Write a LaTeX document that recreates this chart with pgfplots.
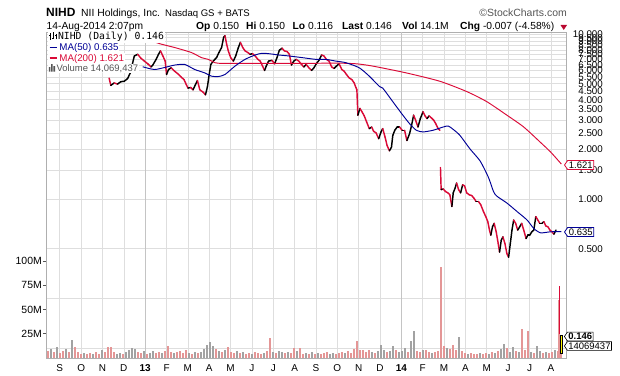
\documentclass[border=0pt]{standalone}
\usepackage{fontspec}
\setmainfont{Liberation Sans}
\newfontfamily\djvm{DejaVu Sans Mono}
\usepackage{pgfplots}
\pgfplotsset{compat=1.18}
\usetikzlibrary{shapes.symbols}
\definecolor{pricered}{RGB}{218,10,55}
\definecolor{mab}{RGB}{0,0,150}
\definecolor{volpink}{RGB}{228,150,150}
\definecolor{volgray}{RGB}{162,162,162}
\definecolor{gridgray}{RGB}{222,222,222}
\definecolor{yeargray}{RGB}{196,196,196}
\definecolor{framegray}{RGB}{175,175,175}
\definecolor{txtgray}{RGB}{85,85,85}
\newcommand{\kv}[2]{{\bfseries #1} #2}
\begin{document}
\begin{tikzpicture}
\useasboundingbox (0,0) rectangle (620bp,376bp);
% ---------- grid / frame / price ticks ----------
\begin{axis}[
  at={(46bp,18bp)}, anchor=south west, width=520bp, height=326bp, scale only axis,
  xmin=-0.646, xmax=23.71, ymode=log, ymin=0.1088, ymax=10.28,
  axis line style={draw=framegray, line width=0.7bp},
  xtick={0,...,23},
  xticklabels={S,O,N,D,\textbf{13},F,M,A,M,J,J,A,S,O,N,D,\textbf{14},F,M,A,M,J,J,A},
  xtick style={draw=none},
  xticklabel style={font=\fontsize{10}{10}\selectfont, yshift=-3.5bp},
  ytick={0.125,0.25,0.5,1,1.5,2,2.5,3,3.5,4,4.5,5,5.5,6,6.5,7,7.5,8,8.5,9,9.5,10},
  yticklabels={,,0.500,1.000,1.500,2.000,2.500,3.000,3.500,4.000,4.500,5.000,5.500,6.000,6.500,7.000,7.500,8.000,8.500,9.000,9.500,10.000},
  yminorticks=false,
  yticklabel pos=right,
  ytick style={draw=none},
  yticklabel style={font=\fontsize{9.8}{10}\selectfont, anchor=east, inner sep=1bp, xshift=38bp},
  grid=major, major grid style={draw=gridgray, line width=0.6bp},
  extra x ticks={4,16}, extra x tick labels={},
  extra x tick style={grid=major, major grid style={draw=yeargray, line width=0.8bp}},
]
\end{axis}
% ---------- volume ----------
\begin{axis}[
  at={(46bp,18bp)}, anchor=south west, width=520bp, height=326bp, scale only axis,
  xmin=-0.646, xmax=23.71, ymin=0, ymax=335.4,
  axis line style={draw=none},
  xtick=\empty,
  ytick={25,50,75,100}, yticklabels={25M,50M,75M,100M},
  ytick pos=left, tick align=outside, major tick length=3bp,
  ytick style={draw=txtgray, line width=0.6bp},
  yticklabel style={font=\fontsize{10.5}{10.5}\selectfont, inner sep=1bp},
]
\addplot[ycomb, draw=volpink, line width=2bp] table {
m v
-0.553 7
-0.272 6
0.009 5
0.150 7
0.431 6
0.712 11
0.852 6
0.993 4
1.274 4
1.415 5
1.696 6
1.836 4
2.117 6
2.258 11
2.398 11
2.539 6
2.960 4
3.663 6
3.803 5
4.084 4
4.506 5
4.646 6
4.927 7
5.068 12
5.208 6
5.489 6
5.630 7
5.770 5
5.911 8.5
6.192 4
6.473 5
7.316 9
7.597 6
7.878 11
8.019 6
8.159 5
8.440 5
8.721 4
8.862 5
9.143 6
9.283 5
9.424 4
9.705 7
9.845 21
10.126 5
10.548 5
10.829 5
10.970 10
11.251 10
11.391 4
11.672 4
11.953 4
12.234 4
12.375 5
12.515 6
12.937 4
13.077 5
13.218 6
13.499 7
13.639 5
13.780 9
13.920 17
14.061 8
14.201 8
14.342 6
14.482 8
14.763 5
15.326 6
15.747 8
16.309 6
16.731 7
16.871 6
17.152 8
17.293 6
17.574 6
17.714 7
17.840 94
17.995 12
18.276 9
18.417 13.6
18.557 8
18.838 7
18.979 5
19.260 5
19.400 4
19.541 4
19.822 4
19.963 5
20.244 6
20.525 7
20.946 10
21.368 7
21.649 29.5
21.789 8
21.930 28
22.211 5
22.632 5
22.913 5
23.054 6
23.335 7
23.40 60
23.49 14.07
};
\addplot[ycomb, draw=volgray, line width=2bp] table {
m v
-0.412 9
-0.131 11.6
0.290 9
0.571 18.5
1.133 5
1.555 4
1.977 8
2.679 4
2.820 5
3.101 6
3.241 8
3.382 10
3.522 9
3.944 7
4.225 5
4.365 7
4.787 5
5.349 5
6.052 5
6.333 6
6.614 6
6.754 9
6.895 13
7.035 16.5
7.176 12
7.457 7
7.738 8
8.300 7
8.581 6
9.002 4
9.564 5
9.986 6
10.267 7
10.407 6
10.689 6
11.110 7
11.532 5
11.813 6
12.094 5
12.656 4
12.796 5
13.358 5
14.623 6
14.904 7
15.044 13.6
15.185 8
15.466 7
15.607 12.4
15.888 6
16.028 7
16.169 10
16.450 17
16.590 28
17.012 8
17.433 5
18.136 10
18.698 22
19.119 4
19.681 5
20.103 4
20.384 5
20.665 9
20.806 14
21.087 6
21.227 11
21.508 6
22.070 6
22.351 12
22.492 7
22.773 6
23.194 8
};
\end{axis}
% ---------- price data ----------
\begin{axis}[
  at={(46bp,18bp)}, anchor=south west, width=520bp, height=326bp, scale only axis,
  xmin=-0.646, xmax=23.71, ymode=log, ymin=0.1088, ymax=10.28,
  hide axis, clip=true,
  colormap={pr}{color=(black) color=(pricered)},
  point meta min=0, point meta max=1,
]
\addplot[mesh, shader=flat corner, point meta=explicit, line width=1.45bp, line cap=round, line join=round]
 table[x=m, y=p, meta=c] {
m p c
2.311 5.40 1
2.390 4.88 0
2.547 5.05 1
2.704 4.97 0
2.862 5.14 0
3.019 5.17 0
3.176 5.37 0
3.302 5.81 0
3.491 7.36 0
3.648 7.53 1
3.805 7.12 1
3.962 6.85 1
4.119 6.60 1
4.277 6.31 0
4.355 6.48 0
4.513 7.02 0
4.623 7.53 0
4.717 7.90 1
4.827 7.36 1
4.937 6.85 1
5.000 5.68 0
5.094 6.09 0
5.220 6.24 1
5.377 5.95 1
5.535 5.73 1
5.692 5.47 1
5.818 5.29 1
5.928 4.93 1
6.006 4.70 0
6.132 4.74 1
6.242 4.59 0
6.352 4.93 0
6.447 5.22 1
6.557 4.59 1
6.714 4.44 1
6.824 4.28 0
6.918 4.81 0
6.997 5.68 0
7.075 6.54 0
7.186 6.85 0
7.343 7.19 0
7.453 7.72 0
7.579 8.28 0
7.673 9.54 0
7.736 9.77 1
7.814 8.68 1
7.893 7.90 1
8.003 7.19 1
8.129 6.85 0
8.239 7.36 0
8.365 8.28 0
8.459 8.89 1
8.569 8.28 1
8.679 7.90 1
8.805 7.72 1
8.915 7.53 0
9.025 7.60 1
9.151 7.36 1
9.277 7.02 1
9.387 6.85 1
9.497 6.39 1
9.591 6.01 0
9.670 6.39 0
9.780 6.85 0
9.937 6.92 1
10.063 6.60 0
10.173 7.19 0
10.283 7.97 0
10.409 8.20 1
10.519 7.90 1
10.645 7.83 1
10.755 7.53 1
10.849 6.48 0
10.959 6.85 0
11.069 7.02 1
11.195 6.85 1
11.321 6.54 1
11.431 6.31 0
11.541 6.54 1
11.667 6.24 1
11.792 6.01 0
11.903 6.24 0
12.013 6.60 0
12.138 6.92 0
12.264 7.46 1
12.374 7.36 1
12.484 7.02 1
12.610 6.85 1
12.736 6.31 1
12.846 6.18 0
12.956 6.39 0
13.082 6.60 1
13.208 6.09 1
13.318 5.95 1
13.428 5.68 1
13.553 5.42 1
13.679 5.29 1
13.789 5.05 1
13.868 4.74 1
13.915 4.59 1
13.962 3.22 0
14.057 3.54 1
14.151 3.38 1
14.261 3.19 1
14.371 2.93 1
14.497 2.67 0
14.607 2.73 1
14.701 2.57 1
14.811 2.52 1
14.937 2.32 0
15.047 2.55 0
15.126 2.67 1
15.236 2.37 1
15.330 2.11 1
15.440 1.96 0
15.535 2.06 0
15.597 2.43 0
15.692 2.61 0
15.802 2.73 0
15.912 2.73 1
16.038 2.61 0
16.148 2.61 1
16.258 2.26 0
16.384 2.49 0
16.478 2.80 0
16.572 3.22 1
16.667 3.00 1
16.777 2.73 0
16.887 3.07 0
17.013 3.38 1
17.107 3.19 1
17.201 3.07 0
17.296 3.19 1
17.406 3.10 1
17.516 3.00 1
17.610 2.86 1
17.720 2.67 1
17.799 2.61 1
};
\addplot[mesh, shader=flat corner, point meta=explicit, line width=1.45bp, line cap=round, line join=round]
 table[x=m, y=p, meta=c] {
m p c
17.830 1.55 1
17.862 1.14 0
17.956 1.15 1
18.066 1.11 1
18.176 1.09 1
18.270 1.06 1
18.365 0.901 0
18.428 1.09 0
18.522 1.17 0
18.585 1.25 1
18.679 1.14 1
18.774 1.09 0
18.868 1.22 1
18.962 1.20 1
19.057 1.09 1
19.182 1.06 1
19.292 1.05 1
19.403 1.01 1
19.497 0.967 0
19.607 0.967 1
19.717 0.923 1
19.843 0.840 1
19.953 0.782 1
20.047 0.729 1
20.126 0.648 1
20.189 0.604 0
20.267 0.679 0
20.346 0.712 1
20.440 0.633 1
20.535 0.537 1
20.597 0.477 0
20.676 0.562 0
20.755 0.590 1
20.849 0.537 1
20.943 0.466 1
21.022 0.444 0
21.101 0.537 0
21.179 0.648 0
21.258 0.746 1
21.352 0.712 1
21.447 0.648 0
21.541 0.679 0
21.635 0.712 1
21.730 0.648 1
21.840 0.576 0
21.918 0.604 0
22.013 0.604 0
22.107 0.633 0
22.201 0.648 0
22.296 0.782 1
22.390 0.746 1
22.484 0.712 0
22.579 0.712 0
22.673 0.729 1
22.767 0.686 1
22.862 0.679 1
22.956 0.648 1
23.050 0.633 1
23.145 0.612 0
23.239 0.648 0
};
% Aug 13 and Aug 14 bars
\addplot[draw=pricered, line width=1.3bp] coordinates {(23.40,0.297) (23.40,0.153)};
\addplot[draw=black, fill=yellow, line width=0.4bp] coordinates {(23.46,0.150) (23.52,0.150) (23.52,0.116) (23.46,0.116)} -- cycle;
% MA(200)
\addplot[draw=pricered, line width=0.95bp, smooth, tension=0.4] table {
m p
4.277 9.10
4.748 8.68
5.377 8.28
6.164 7.72
6.635 7.19
6.950 7.02
7.264 6.70
7.579 6.63
8.208 6.63
9.780 6.63
11.352 6.63
12.925 6.66
13.868 6.60
14.654 6.39
16.226 5.81
17.799 5.17
19.057 4.48
20.000 3.89
20.943 3.22
21.730 2.73
22.520 2.20
23.000 1.92
23.490 1.63
};
% MA(50)
\addplot[draw=mab, line width=0.95bp, smooth, tension=0.4] table {
m p
3.884 6.33
4.434 6.09
4.984 6.30
5.377 6.48
5.849 6.54
6.321 6.09
6.792 5.81
7.107 5.55
7.421 5.52
7.736 5.68
8.208 6.39
8.679 7.02
9.151 7.46
9.465 7.64
9.780 7.60
10.252 7.46
10.723 7.36
11.352 7.19
11.981 7.02
12.453 7.02
12.925 6.85
13.396 6.70
14.025 6.24
14.497 5.55
14.969 4.81
15.126 4.70
15.597 3.89
16.069 3.22
16.384 2.86
16.698 2.61
17.013 2.55
17.484 2.61
17.956 2.73
18.192 2.77
18.428 2.64
18.742 2.43
19.214 2.01
19.686 1.70
20.079 1.35
20.314 1.11
20.472 1.04
20.943 0.945
21.415 0.840
21.887 0.746
22.201 0.663
22.516 0.624
22.987 0.633
23.490 0.635
};
\end{axis}
% ---------- legend ----------
\node[anchor=west, fill=white, inner sep=0.6bp] at (48bp,339bp) {\tikz[baseline=0]{\draw[line width=0.8bp] (0,0)--(0,6.5bp) (-0.9bp,4.5bp)--(0,4.5bp) (0,2bp)--(0.9bp,2bp) (3bp,1bp)--(3bp,7.5bp) (2.1bp,2bp)--(3bp,2bp) (3bp,6bp)--(3.9bp,6bp) (6bp,0.5bp)--(6bp,6bp) (5.1bp,5bp)--(6bp,5bp);}\hspace{1.6bp}{\djvm\fontsize{9.8}{10}\selectfont NIHD (Daily) 0.146}};
\node[anchor=west, fill=white, inner sep=0.6bp] at (48bp,328bp) {\tikz[baseline=-3bp]{\draw[mab, line width=1.6bp] (0,0)--(7.5bp,0);}\hspace{1.5bp}\textcolor{mab}{\fontsize{9.8}{10}\selectfont MA(50) 0.635}};
\node[anchor=west, fill=white, inner sep=0.6bp] at (48bp,317.5bp) {\tikz[baseline=-3bp]{\draw[pricered, line width=1.6bp] (0,0)--(7.5bp,0);}\hspace{1.5bp}\textcolor{pricered}{\fontsize{9.8}{10}\selectfont MA(200) 1.621}};
\node[anchor=west, fill=white, inner sep=0.6bp] at (48bp,307.5bp) {\tikz[baseline=0]{\fill[txtgray] (0,0) rectangle (1.6bp,4.5bp) (2.3bp,0) rectangle (3.9bp,7.5bp) (4.6bp,0) rectangle (6.2bp,5.5bp);}\hspace{1.5bp}\textcolor{txtgray}{\fontsize{9.5}{10}\selectfont Volume 14,069,437}};
% ---------- value boxes ----------
\node[signal, signal to=west, signal pointer angle=110, draw=pricered, fill=white, line width=0.8bp, inner sep=1.2bp, anchor=west, font=\fontsize{9.5}{10}\selectfont] at (564bp,211bp) {1.621};
\node[signal, signal to=west, signal pointer angle=110, draw=mab, fill=white, line width=0.8bp, inner sep=1.2bp, anchor=west, font=\fontsize{9.5}{10}\selectfont] at (564bp,144bp) {0.635};
\node[signal, signal to=west, signal pointer angle=110, draw=black, fill=white, line width=0.6bp, inner sep=1bp, anchor=west, font=\fontsize{9.5}{10}\selectfont\bfseries] at (564bp,39.5bp) {0.146};
\node[signal, signal to=west, signal pointer angle=110, draw=black, fill=white, line width=0.6bp, inner sep=1bp, anchor=west, font=\fontsize{9.5}{10}\selectfont] at (564bp,30bp) {14069437};
% ---------- header ----------
\node[anchor=base west, inner sep=0] at (46bp,359bp) {\fontsize{12}{14}\selectfont\bfseries NIHD};
\node[anchor=base west, inner sep=0] at (81bp,359bp) {\fontsize{10.4}{12}\selectfont NII Holdings, Inc.};
\node[anchor=base west, inner sep=0] at (165bp,359bp) {\fontsize{9.6}{12}\selectfont Nasdaq GS + BATS};
\node[anchor=base east, inner sep=0, text=txtgray] at (567bp,359bp) {\fontsize{10.5}{12}\selectfont \textcopyright StockCharts.com};
\node[anchor=base west, inner sep=0] at (46.5bp,346.5bp) {\fontsize{10.3}{12}\selectfont 14-Aug-2014 2:07pm};
\begin{scope}[every node/.style={anchor=base west, inner sep=0, font=\fontsize{10.3}{12}\selectfont}]
\node at (196bp,346.5bp) {\kv{Op}{0.150}};
\node at (246bp,346.5bp) {\kv{Hi}{0.150}};
\node at (292.5bp,346.5bp) {\kv{Lo}{0.116}};
\node at (342bp,346.5bp) {\kv{Last}{0.146}};
\node at (402bp,346.5bp) {\kv{Vol}{14.1M}};
\node at (460bp,346.5bp) {\kv{Chg}{-0.007 (-4.58\%)}};
\end{scope}
\fill[pricered!85!black] (560.5bp,351bp) -- (567bp,351bp) -- (563.75bp,346bp) -- cycle;
\end{tikzpicture}
\end{document}
